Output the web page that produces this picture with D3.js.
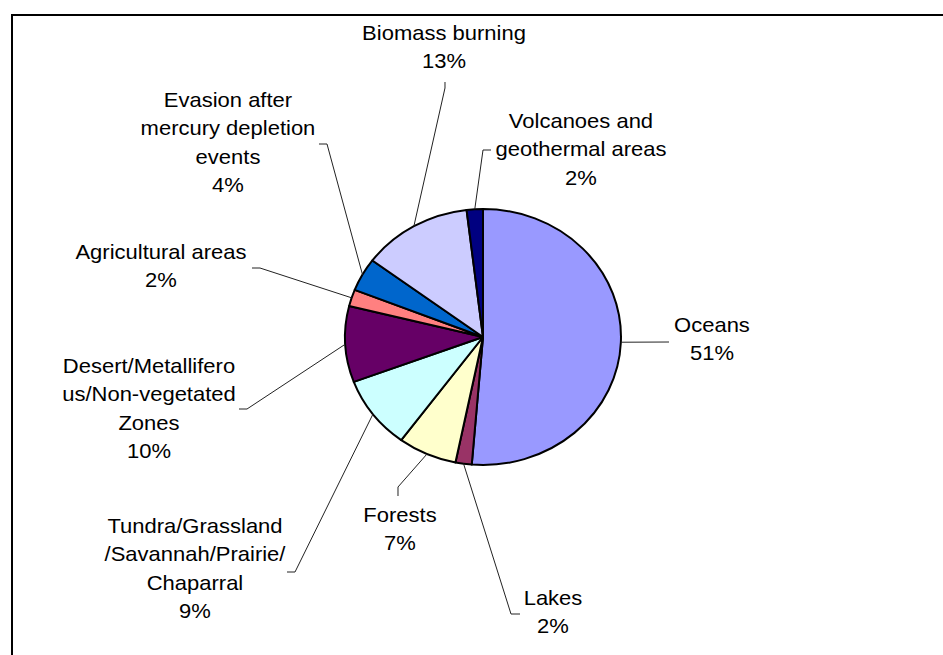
<!DOCTYPE html>
<html>
<head>
<meta charset="utf-8">
<script src="https://cdn.jsdelivr.net/npm/d3@7"></script>
<style>
  html, body { margin: 0; padding: 0; background: #fff; }
  svg { display: block; }
  text { font-family: "Liberation Sans", Arial, sans-serif; fill: #000; }
</style>
</head>
<body>
<svg id="chart" width="943" height="655"></svg>
<script>
// ---- data ----
const categories = ["Oceans", "Lakes", "Forests",
  "Tundra/Grassland/Savannah/Prairie/Chaparral",
  "Desert/Metalliferous/Non-vegetated Zones",
  "Agricultural areas", "Evasion after mercury depletion events",
  "Biomass burning", "Volcanoes and geothermal areas"];
const values = [51.3, 1.9, 6.9, 9.2, 9.6, 2.1, 4.2, 12.9, 1.9];
const colors = ["#9999FF", "#993366", "#FFFFCC", "#CCFFFF", "#660066",
  "#FF8080", "#0066CC", "#CCCCFF", "#000080"];
// label text as wrapped in the chart
const labelLines = [
  ["Oceans"], ["Lakes"], ["Forests"],
  ["Tundra/Grassland", "/Savannah/Prairie/", "Chaparral"],
  ["Desert/Metallifero", "us/Non-vegetated", "Zones"],
  ["Agricultural areas"],
  ["Evasion after", "mercury depletion", "events"],
  ["Biomass burning"],
  ["Volcanoes and", "geothermal areas"]
];

// ---- layout (reference pixel coords) ----
const W = 943, H = 655;
const sx = 1.078;            // horizontal stretch of the picture
const cx = 483, cy = 337, R = 128;
const lineH = 28.5;
const fontSize = 20.4;
// label center x, first baseline y, leader elbow, leader end
const labelLayout = [
  {x: 712, y: 332, elbow: [669, 342], end: [669, 342]},
  {x: 553, y: 605, elbow: [511, 614], end: [520, 614]},
  {x: 400, y: 522, elbow: [398, 487], end: [398, 496]},
  {x: 195, y: 533, elbow: [295, 572], end: [287, 572]},
  {x: 149, y: 373, elbow: [247, 409], end: [239, 409]},
  {x: 161, y: 259, elbow: [260, 268], end: [252, 268]},
  {x: 228, y: 107, elbow: [327, 144], end: [319, 144]},
  {x: 444, y: 40,  elbow: [445, 88],  end: [445, 82]},
  {x: 581, y: 128, elbow: [483, 150], end: [491, 150]}
];

const svg = d3.select("#chart");
svg.append("rect").attr("width", W).attr("height", H).attr("fill", "#fff");

// frame (top and left edges visible)
svg.append("path")
  .attr("d", `M12,${H} V15 H${W}`)
  .attr("fill", "none").attr("stroke", "#000").attr("stroke-width", 2);

const root = svg.append("g").attr("transform", `scale(${sx},1)`);
const X = v => v / sx;

const total = d3.sum(values);
const pie = d3.pie().sort(null).value(d => d)(values);
const arc = d3.arc().innerRadius(0).outerRadius(R);

const gPie = root.append("g").attr("transform", `translate(${X(cx)},${cy})`);
gPie.selectAll("path.slice").data(pie).join("path")
  .attr("class", "slice")
  .attr("d", arc)
  .attr("fill", (d, i) => colors[i])
  .attr("stroke", "#000")
  .attr("stroke-width", 2)
  .attr("stroke-linejoin", "round")
  .attr("vector-effect", "non-scaling-stroke");

// leader lines
const fmtPct = v => Math.round(v / total * 100) + "%";
pie.forEach((d, i) => {
  const a = (d.startAngle + d.endAngle) / 2;
  const p0 = [cx + Math.sin(a) * R * sx, cy - Math.cos(a) * R];
  const L = labelLayout[i];
  const pts = [p0, L.elbow, L.end].map(p => [X(p[0]), p[1]]);
  root.append("path")
    .attr("d", d3.line()(pts))
    .attr("fill", "none")
    .attr("stroke", "#222")
    .attr("stroke-width", 1)
    .attr("vector-effect", "non-scaling-stroke");

  const lines = labelLines[i].concat([fmtPct(values[i])]);
  const t = root.append("text")
    .attr("text-anchor", "middle")
    .attr("font-size", fontSize);
  lines.forEach((s, k) => {
    t.append("tspan")
      .attr("x", X(L.x))
      .attr("y", L.y + k * lineH)
      .text(s);
  });
});
</script>
</body>
</html>
